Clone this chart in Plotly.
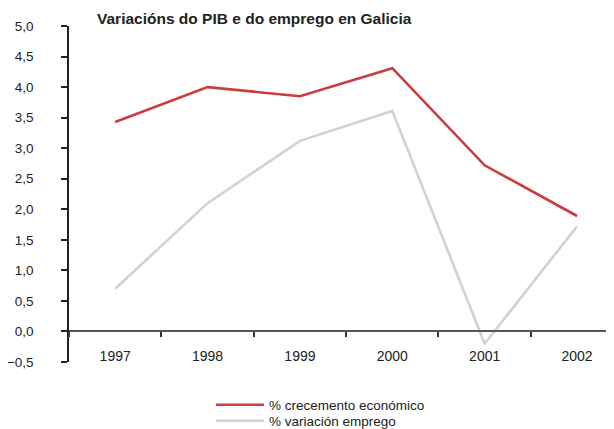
import plotly.graph_objects as go

years = ["1997", "1998", "1999", "2000", "2001", "2002"]
crecemento = [3.43, 4.00, 3.85, 4.31, 2.72, 1.89]
emprego = [0.70, 2.10, 3.12, 3.61, -0.20, 1.72]
y_ticks = [-0.5, 0.0, 0.5, 1.0, 1.5, 2.0, 2.5, 3.0, 3.5, 4.0, 4.5, 5.0]

FONT = "Liberation Sans, Arial, sans-serif"
# the page body has an 8px margin, so the figure is drawn 8px in from the window edge
W, H = 606, 421
L, T, B = 61, 18, 67
PH = H - T - B  # plot height in px

fig = go.Figure()
fig.add_trace(go.Scatter(x=years, y=crecemento, mode="lines", name="% crecemento económico",
                         line=dict(color="#cc3b3e", width=2.6), legend="legend"))
fig.add_trace(go.Scatter(x=years, y=emprego, mode="lines", name="% variación emprego",
                         line=dict(color="#d2d2d2", width=2.6), legend="legend2"))

leg_common = dict(x=(203 - L) / (W - L), xanchor="left", yanchor="middle",
                  font=dict(family=FONT, size=13.5, color="#222"),
                  bgcolor="rgba(0,0,0,0)", itemwidth=48)

fig.update_layout(
    width=W, height=H,
    margin=dict(l=L, r=0, t=T, b=B, autoexpand=False),
    paper_bgcolor="white", plot_bgcolor="white",
    separators=",.",
    font=dict(family=FONT, size=14, color="#222"),
    title=dict(text="<b>Variacións do PIB e do emprego en Galicia</b>",
               x=89 / W, xanchor="left", y=1 - 11 / H, yanchor="middle",
               font=dict(family=FONT, size=15.5, color="#222")),
    showlegend=True,
    legend=dict(y=(T + PH - 397) / PH, **leg_common),
    legend2=dict(y=(T + PH - 413) / PH, **leg_common),
    xaxis=dict(type="category", range=[-0.5, 5.4], anchor="free", position=0.5 / 5.5,
               showline=True, linecolor="#555", linewidth=2, automargin=False,
               ticks="outside", tickson="boundaries", ticklen=5, tickcolor="#333", tickwidth=1.5,
               showgrid=False, zeroline=False,
               tickfont=dict(family=FONT, size=14, color="#222"), ticklabelstandoff=12),
    yaxis=dict(range=[-0.5, 5.0], tickvals=y_ticks, tickformat=".1f", automargin=False,
               showline=True, linecolor="#222", linewidth=1.5,
               ticks="outside", ticklen=6, tickcolor="#222", tickwidth=1.5,
               showgrid=False, zeroline=False,
               tickfont=dict(family=FONT, size=13.5, color="#222"), ticklabelstandoff=25),
)

fig.write_html("out.html")
